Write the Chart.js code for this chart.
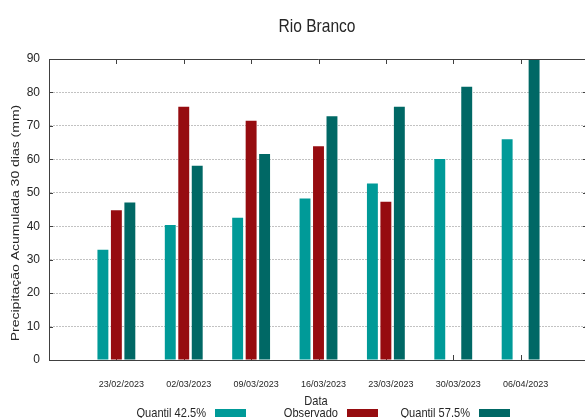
<!DOCTYPE html>
<html>
<head>
<meta charset="utf-8">
<script src="https://cdn.jsdelivr.net/npm/chart.js@4.4.1/dist/chart.umd.min.js"></script>
<style>
  html, body { margin: 0; padding: 0; background: #fff; overflow: hidden; }
  /* the plot frame runs a few pixels past the right edge of the window, as in the reference */
  #wrap { width: 588px; height: 418px; }
</style>
</head>
<body>
<div id="wrap"><canvas id="myChart"></canvas></div>
<script>
// empty slots at both ends so the first and last dates sit one step in from the borders
const datas = ['', '23/02/2023', '02/03/2023', '09/03/2023', '16/03/2023', '23/03/2023', '30/03/2023', '06/04/2023', ''];
const quantil425 = [null, 33.0, 40.4, 42.5, 48.3, 52.8, 60.1, 66.0, null];
const observado  = [null, 44.8, 75.7, 71.5, 63.9, 47.3, null, null, null];
const quantil575 = [null, 47.1, 58.1, 61.6, 72.9, 75.7, 81.7, 91.0, null];
const yTicks = [0, 10, 20, 30, 40, 50, 60, 70, 80, 90];

const sans = '"Liberation Sans", Arial, sans-serif';
const textColor = '#262626';
const axisColor = '#404040';
const squeeze = 0.82; // the reference text is horizontally condensed

const ctx = document.getElementById('myChart');

function narrowText(c, txt, x, y, size, align) {
  c.save();
  c.translate(x, y);
  c.scale(squeeze, 1);
  c.font = size + 'px ' + sans;
  c.textAlign = align;
  c.fillText(txt, 0, 0);
  c.restore();
}

// gnuplot style extras: mirrored inward ticks, top border, titles and key
const decor = {
  id: 'decor',
  beforeDatasetsDraw(chart) {
    const { ctx, chartArea: a, scales: { x, y } } = chart;
    ctx.save();
    ctx.strokeStyle = axisColor;
    ctx.lineWidth = 1;
    ctx.beginPath();
    for (let i = 1; i < datas.length - 1; i++) {
      const px = Math.round(x.getPixelForValue(i)) + 0.5;
      ctx.moveTo(px, a.top);
      ctx.lineTo(px, a.top + 5);
      ctx.moveTo(px, a.bottom);
      ctx.lineTo(px, a.bottom - 5);
    }
    yTicks.forEach(v => {
      const py = Math.round(y.getPixelForValue(v)) + 0.5;
      ctx.moveTo(a.right, py);
      ctx.lineTo(a.right - 5, py);
      ctx.moveTo(a.left, py);
      ctx.lineTo(a.left + 4, py);
    });
    ctx.stroke();
    ctx.restore();
  },
  afterDraw(chart) {
    const { ctx, chartArea: a } = chart;
    ctx.save();

    // top border
    ctx.strokeStyle = axisColor;
    ctx.lineWidth = 1;
    ctx.beginPath();
    ctx.moveTo(a.left, Math.round(a.top) + 0.5);
    ctx.lineTo(a.right, Math.round(a.top) + 0.5);
    ctx.stroke();

    ctx.fillStyle = textColor;
    ctx.textBaseline = 'alphabetic';

    narrowText(ctx, 'Rio Branco', 317, 32, 19, 'center');
    narrowText(ctx, 'Data', 316, 405, 13.5, 'center');

    // y axis title, squeezed across its height
    ctx.save();
    ctx.translate(16, 223);
    ctx.rotate(-Math.PI / 2);
    ctx.scale(1, squeeze);
    ctx.font = '14px ' + sans;
    ctx.textAlign = 'center';
    ctx.textBaseline = 'middle';
    ctx.fillText('Precipitação Acumulada 30 dias (mm)', 0, 0);
    ctx.restore();

    // key: text then sample box
    const keyX = [206, 338, 470];
    chart.data.datasets.forEach((ds, i) => {
      ctx.fillStyle = textColor;
      narrowText(ctx, ds.label, keyX[i], 417, 13.5, 'right');
      ctx.fillStyle = ds.backgroundColor;
      ctx.fillRect(keyX[i] + 9, 409, 31, 8);
    });
    ctx.restore();
  }
};

new Chart(ctx, {
  type: 'bar',
  data: {
    labels: datas,
    datasets: [
      { label: 'Quantil 42.5%', data: quantil425, backgroundColor: '#009a98' },
      { label: 'Observado', data: observado, backgroundColor: '#960c10' },
      { label: 'Quantil 57.5%', data: quantil575, backgroundColor: '#006865' }
    ]
  },
  options: {
    responsive: true,
    maintainAspectRatio: false,
    animation: false,
    devicePixelRatio: 1,
    categoryPercentage: 0.6,
    barPercentage: 0.81,
    layout: { padding: { top: 59, right: 0, bottom: 0, left: 0 } },
    plugins: {
      legend: { display: false },
      title: { display: false },
      tooltip: { enabled: false }
    },
    scales: {
      x: {
        offset: false,
        grid: { display: false, drawTicks: false },
        border: { display: true, color: axisColor, width: 1 },
        ticks: {
          autoSkip: false,
          maxRotation: 0,
          padding: 19,
          labelOffset: 5,
          color: textColor,
          font: { family: sans, size: 9 }
        },
        afterFit(scale) {
          scale.height = 58;
          scale.paddingLeft = 0;
          scale.paddingRight = 0;
        }
      },
      y: {
        min: 0,
        max: 90,
        grid: { color: '#c2c2c2', lineWidth: 1, drawTicks: false },
        border: { display: true, color: axisColor, width: 1, dash: [2, 1] },
        ticks: {
          stepSize: 10,
          padding: 9,
          color: textColor,
          font: { family: sans, size: 12 }
        },
        afterFit(scale) {
          scale.width = 49;
          scale.paddingTop = 0;
          scale.paddingBottom = 0;
        }
      }
    }
  },
  plugins: [decor]
});
</script>
</body>
</html>
